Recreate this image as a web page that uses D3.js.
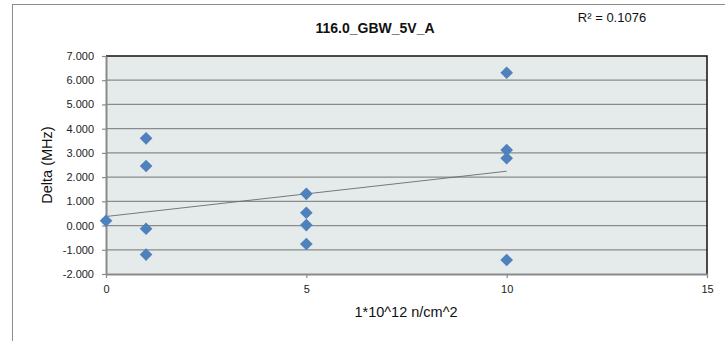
<!DOCTYPE html>
<html>
<head>
<meta charset="utf-8">
<script src="https://cdn.jsdelivr.net/npm/d3@7"></script>
<style>
  body { margin: 0; background: #fff; }
  svg { display: block; font-family: "Liberation Sans", Arial, sans-serif; }
</style>
</head>
<body>
<div id="chart"></div>
<script>
// data
var doseX  = [0, 1, 1, 1, 1, 5, 5, 5, 5, 10, 10, 10, 10];
var deltaY = [0.20, 3.60, 2.46, -0.13, -1.20, 1.31, 0.53, 0.02, -0.76, 6.31, 3.12, 2.78, -1.42];
var yTicks = [-2, -1, 0, 1, 2, 3, 4, 5, 6, 7];
var xTicks = [0, 5, 10, 15];
var chartTitle = "116.0_GBW_5V_A";
var xTitle = "1*10^12 n/cm^2";
var yTitle = "Delta (MHz)";
var r2Label = "R\u00b2 = 0.1076";

var W = 725, H = 341;
var svg = d3.select("#chart").append("svg").attr("width", W).attr("height", H);

// outer chart frame (runs off the right / bottom edge)
svg.append("rect").attr("x", 12.5).attr("y", 4.5).attr("width", 800).attr("height", 400)
  .attr("fill", "#fff").attr("stroke", "#8c8c8c").attr("stroke-width", 1);

var x = d3.scaleLinear().domain([0, 15]).range([106, 707]);
var y = d3.scaleLinear().domain([-2, 7]).range([274, 56]);

// plot background
svg.append("rect").attr("x", x(0)).attr("y", y(7))
  .attr("width", x(15) - x(0)).attr("height", y(-2) - y(7))
  .attr("fill", "#e5ebeb");

// horizontal gridlines
svg.append("g").selectAll("line").data(yTicks.filter(function(d) { return d > -2 && d < 7; }))
  .enter().append("line")
  .attr("x1", x(0)).attr("x2", x(15))
  .attr("y1", function(d) { return y(d); }).attr("y2", function(d) { return y(d); })
  .attr("stroke", "#8a8a8a").attr("stroke-width", 1.2);

// top + right border (black)
svg.append("path")
  .attr("d", "M" + x(0) + "," + y(7) + "H" + x(15) + "V" + y(-2))
  .attr("fill", "none").attr("stroke", "#111").attr("stroke-width", 1.5);

// y axis
var yAxis = svg.append("g").attr("transform", "translate(" + x(0) + ",0)")
  .call(d3.axisLeft(y).tickValues(yTicks).tickFormat(d3.format(".3f")).tickSize(4).tickSizeOuter(0));
yAxis.select(".domain").attr("stroke", "#8a8a8a").attr("stroke-width", 2);
yAxis.selectAll(".tick line").attr("stroke", "#8a8a8a").attr("stroke-width", 1.2);
yAxis.selectAll(".tick text").attr("font-size", 11).attr("fill", "#222")
  .attr("font-family", "Liberation Sans, Arial, sans-serif").attr("x", -12)
  .text(function(d) { return d3.format(".3f")(d).replace("\u2212", "-"); });

// x axis
var xAxis = svg.append("g").attr("transform", "translate(0," + y(-2) + ")")
  .call(d3.axisBottom(x).tickValues(xTicks).tickFormat(d3.format("d")).tickSize(4).tickSizeOuter(0));
xAxis.select(".domain").attr("stroke", "#8a8a8a").attr("stroke-width", 2);
xAxis.selectAll(".tick line").attr("stroke", "#8a8a8a").attr("stroke-width", 1.2);
xAxis.selectAll(".tick text").attr("font-size", 11).attr("fill", "#222")
  .attr("font-family", "Liberation Sans, Arial, sans-serif").attr("y", 11);

// linear trend line, fitted from the points
var n = doseX.length;
var mx = d3.mean(doseX), my = d3.mean(deltaY);
var sxy = d3.sum(doseX, function(d, i) { return (d - mx) * (deltaY[i] - my); });
var sxx = d3.sum(doseX, function(d) { return (d - mx) * (d - mx); });
var slope = sxy / sxx, icpt = my - slope * mx;
var xExt = d3.extent(doseX);
svg.append("line")
  .attr("x1", x(xExt[0])).attr("y1", y(icpt + slope * xExt[0]))
  .attr("x2", x(xExt[1])).attr("y2", y(icpt + slope * xExt[1]))
  .attr("stroke", "#6a6a6a").attr("stroke-width", 0.9);

// markers
var diamond = d3.symbol().type(d3.symbolSquare).size(80);
svg.append("g").selectAll("path").data(doseX).enter().append("path")
  .attr("d", diamond)
  .attr("transform", function(d, i) { return "translate(" + x(d) + "," + y(deltaY[i]) + ") rotate(45)"; })
  .attr("fill", "#4f81bd");

// texts
svg.append("text").attr("x", 375).attr("y", 33).attr("text-anchor", "middle")
  .attr("font-size", 14).attr("font-weight", "bold").attr("fill", "#111").text(chartTitle);
svg.append("text").attr("x", 612).attr("y", 22).attr("text-anchor", "middle")
  .attr("font-size", 13).attr("fill", "#111").text(r2Label);
svg.append("text").attr("x", 406).attr("y", 317).attr("text-anchor", "middle")
  .attr("font-size", 14.5).attr("fill", "#111").text(xTitle);
svg.append("text").attr("transform", "translate(52,165) rotate(-90)").attr("text-anchor", "middle")
  .attr("font-size", 14.5).attr("fill", "#111").text(yTitle);
</script>
</body>
</html>
